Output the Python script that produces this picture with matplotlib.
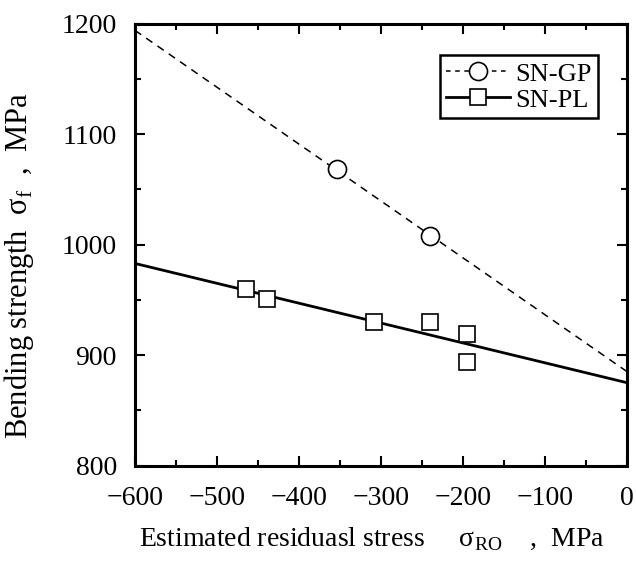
import matplotlib
matplotlib.use('Agg')
import matplotlib.pyplot as plt
from matplotlib.lines import Line2D
from matplotlib.ticker import MultipleLocator

plt.rcParams['font.family'] = ['Liberation Serif', 'DejaVu Serif']
plt.rcParams['mathtext.fontset'] = 'custom'
plt.rcParams['mathtext.rm'] = 'Liberation Serif'

# SN-GP (circles)
gp_x = [-353, -240]
gp_y = [1068, 1008]

# SN-PL (squares)
pl_x = [-465, -439, -309, -240, -195, -195]
pl_y = [960, 951, 930, 930, 919, 894]

# fitted lines (end points)
fit_x = [-600, 0]
gp_fit = [1194, 885]
pl_fit = [983, 875]

xticks = [-600, -500, -400, -300, -200, -100, 0]
xtick_labels = ['\u2212600', '\u2212500', '\u2212400', '\u2212300', '\u2212200', '\u2212100', '0']

fig = plt.figure(figsize=(6.36, 5.63), dpi=100)
ax = fig.add_axes([0.212, 0.173, 0.774, 0.785])

ax.plot(fit_x, gp_fit, color='black', lw=1.1, ls=(0, (5, 4)))
ax.plot(fit_x, pl_fit, color='black', lw=2.0)
ax.plot(gp_x, gp_y, 'o', ms=13, mfc='white', mec='black', mew=1.2)
ax.plot(pl_x, pl_y, 's', ms=12, mfc='white', mec='black', mew=1.2)

ax.set_xlim(-600, 0)
ax.set_ylim(800, 1200)
ax.set_xticks(xticks)
ax.set_xticklabels(xtick_labels)
ax.xaxis.set_minor_locator(MultipleLocator(50))
ax.yaxis.set_major_locator(MultipleLocator(100))
ax.yaxis.set_minor_locator(MultipleLocator(50))

ax.tick_params(which='both', direction='in', top=True, right=True, width=1.5)
ax.tick_params(which='major', length=7, labelsize=20)
ax.tick_params(axis='x', pad=15)
ax.tick_params(axis='y', pad=13)
ax.tick_params(which='minor', length=4)
for s in ax.spines.values():
    s.set_linewidth(2.2)

ax.set_xlabel('Estimated residuasl stress     σ$_{\\mathrm{RO}}$    ,  MPa', fontsize=20)
ax.xaxis.set_label_coords(0.482, -0.135)
ax.set_ylabel('Bending strength  σ$_{\\mathrm{f}}$  ,  MPa', fontsize=22)
ax.yaxis.set_label_coords(-0.2, 0.452)

handles = [
    Line2D([], [], color='black', lw=1.1, ls=(0, (3, 3)), marker='o', ms=13,
           mfc='white', mec='black', mew=1.2),
    Line2D([], [], color='black', lw=2.0, marker='s', ms=12,
           mfc='white', mec='black', mew=1.2),
]
leg = ax.legend(handles, ['SN-GP', 'SN-PL'], loc='upper right', fontsize=19,
                fancybox=False, edgecolor='black', framealpha=1,
                handlelength=2.4, handletextpad=0.2, borderpad=0.25,
                labelspacing=0.1, borderaxespad=0,
                bbox_to_anchor=(0.941, 0.928))
leg.get_frame().set_linewidth(1.8)

plt.savefig('out.png', dpi=100)
